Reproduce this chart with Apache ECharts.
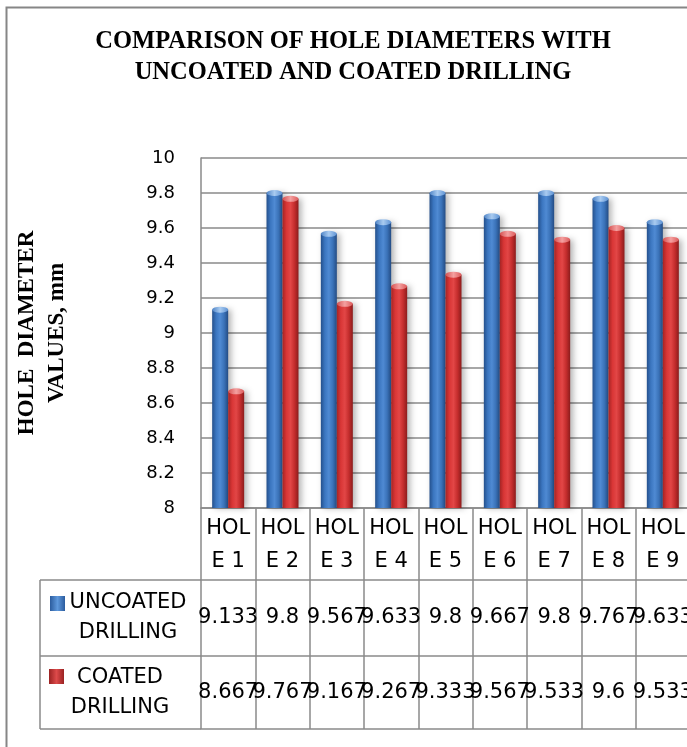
<!DOCTYPE html>
<html>
<head>
<meta charset="utf-8">
<script src="https://cdn.jsdelivr.net/npm/echarts@6/dist/echarts.min.js"></script>
<style>
  html, body { margin: 0; padding: 0; background: #ffffff; overflow: hidden; }
  #chart { width: 687px; height: 747px; }
</style>
</head>
<body>
<div id="chart"></div>
<script>
// Hole diameters (mm) measured for each drilled hole
const categories = ['HOLE 1', 'HOLE 2', 'HOLE 3', 'HOLE 4', 'HOLE 5', 'HOLE 6', 'HOLE 7', 'HOLE 8', 'HOLE 9'];
const uncoated = [9.133, 9.8, 9.567, 9.633, 9.8, 9.667, 9.8, 9.767, 9.633];
const coated = [8.667, 9.767, 9.167, 9.267, 9.333, 9.567, 9.533, 9.6, 9.533];
const seriesNames = ['UNCOATED DRILLING', 'COATED DRILLING'];
const yMin = 8, yMax = 10, yStep = 0.2;

// Layout of the plot and the data table underneath it
const GRID = { left: 201, top: 158, width: 489, height: 350 };
const HEAD_H = 72, ROW1_H = 76, ROW2_H = 73;
const TABLE_LEFT = 40;
const LINE = '#8a8a8a';
const SANS = '"DejaVu Sans", sans-serif';
const SERIF = '"Liberation Serif", "Times New Roman", serif';

function grad(stops) {
  return new echarts.graphic.LinearGradient(0, 0, 1, 0,
    stops.map((c, i) => ({ offset: i / (stops.length - 1), color: c })));
}
const blueBody = grad(['#24508c', '#3b76c0', '#4f8ad3', '#3a72b8', '#244c84']);
const redBody = grad(['#a52424', '#d93636', '#e24646', '#c42d2d', '#8c1c1c']);
const blueCap = grad(['#4f84c6', '#a9cbf0', '#5d92d4']);
const redCap = grad(['#d55050', '#f4a0a0', '#dc5a5a']);

const chart = echarts.init(document.getElementById('chart'), null, { renderer: 'canvas', width: 687, height: 747 });

const gridBottom = GRID.top + GRID.height;
const row1Top = gridBottom + HEAD_H;
const row2Top = row1Top + ROW1_H;
const tableBottom = row2Top + ROW2_H;

function tableAxis(offset, tickLen, formatter, lineHeight, showLabel) {
  return {
    type: 'category',
    data: categories,
    position: 'bottom',
    offset: offset,
    axisLine: { show: true, lineStyle: { color: LINE, width: 1.5 } },
    axisTick: { show: tickLen > 0, interval: 0, length: tickLen, lineStyle: { color: LINE, width: 1.5 } },
    axisLabel: {
      show: showLabel,
      interval: 0,
      margin: 0,
      formatter: formatter,
      fontFamily: SANS,
      fontSize: 21,
      color: '#000',
      lineHeight: lineHeight
    },
    splitLine: { show: false }
  };
}

const option = {
  animation: false,
  backgroundColor: '#ffffff',
  title: {
    text: 'COMPARISON OF HOLE DIAMETERS WITH\nUNCOATED AND COATED DRILLING',
    left: 348,
    top: 21,
    textAlign: 'center',
    textStyle: {
      fontFamily: SERIF,
      fontWeight: 'bold',
      fontSize: 24.5,
      lineHeight: 31,
      color: '#000'
    }
  },
  grid: {
    left: GRID.left, top: GRID.top, width: GRID.width, height: GRID.height,
    containLabel: false,
    outerBoundsMode: 'none'
  },
  xAxis: [
    {
      type: 'category',
      data: categories,
      position: 'bottom',
      axisLine: { show: true, lineStyle: { color: LINE, width: 1.5 } },
      axisTick: { show: true, interval: 0, length: HEAD_H, lineStyle: { color: LINE, width: 1.5 } },
      axisLabel: {
        interval: 0,
        margin: 4,
        width: 50,
        overflow: 'breakAll',
        fontFamily: SANS,
        fontSize: 21,
        lineHeight: 33,
        color: '#000'
      }
    },
    tableAxis(HEAD_H, ROW1_H, (v, i) => String(uncoated[i]), ROW1_H, true),
    tableAxis(HEAD_H + ROW1_H, ROW2_H, (v, i) => String(coated[i]), ROW2_H, true),
    tableAxis(HEAD_H + ROW1_H + ROW2_H, 0, () => '', 10, false)
  ],
  yAxis: {
    type: 'value',
    min: yMin,
    max: yMax,
    interval: yStep,
    name: 'HOLE  DIAMETER\nVALUES, mm',
    nameLocation: 'middle',
    nameRotate: 90,
    nameGap: 129,
    nameTextStyle: {
      fontFamily: SERIF,
      fontWeight: 'bold',
      fontSize: 23,
      lineHeight: 30,
      color: '#000'
    },
    axisLine: { show: true, lineStyle: { color: LINE, width: 1.5 } },
    axisTick: { show: false },
    axisLabel: { margin: 26, fontFamily: SANS, fontSize: 18, color: '#000' },
    splitLine: { show: true, lineStyle: { color: LINE, width: 1.5 } }
  },
  series: [
    {
      name: seriesNames[0],
      type: 'bar',
      data: uncoated,
      barWidth: 16,
      barGap: '0%',
      itemStyle: { color: blueBody, shadowBlur: 6, shadowColor: 'rgba(0,0,0,0.3)', shadowOffsetX: 3 },
      z: 3
    },
    {
      name: seriesNames[1],
      type: 'bar',
      data: coated,
      barWidth: 16,
      barGap: '0%',
      itemStyle: { color: redBody, shadowBlur: 6, shadowColor: 'rgba(0,0,0,0.3)', shadowOffsetX: 3 },
      z: 3
    },
    {
      name: seriesNames[0] + ' cap',
      type: 'pictorialBar',
      data: uncoated,
      barWidth: 16,
      barGap: '0%',
      symbol: 'circle',
      symbolSize: [16, 6],
      symbolPosition: 'end',
      symbolOffset: [0, '-50%'],
      itemStyle: { color: blueCap },
      z: 5
    },
    {
      name: seriesNames[1] + ' cap',
      type: 'pictorialBar',
      data: coated,
      barWidth: 16,
      barGap: '0%',
      symbol: 'circle',
      symbolSize: [16, 6],
      symbolPosition: 'end',
      symbolOffset: [0, '-50%'],
      itemStyle: { color: redCap },
      z: 5
    }
  ],
  graphic: [
    // chart frame
    { type: 'rect', shape: { x: 6.5, y: 7.5, width: 720, height: 780 },
      style: { fill: 'none', stroke: '#868686', lineWidth: 2 }, z: 0 },
    // left part of the data table (series name cells)
    { type: 'line', shape: { x1: TABLE_LEFT, y1: row1Top, x2: GRID.left, y2: row1Top }, style: { stroke: LINE, lineWidth: 1.5 } },
    { type: 'line', shape: { x1: TABLE_LEFT, y1: row2Top, x2: GRID.left, y2: row2Top }, style: { stroke: LINE, lineWidth: 1.5 } },
    { type: 'line', shape: { x1: TABLE_LEFT, y1: tableBottom, x2: GRID.left, y2: tableBottom }, style: { stroke: LINE, lineWidth: 1.5 } },
    { type: 'line', shape: { x1: TABLE_LEFT, y1: row1Top, x2: TABLE_LEFT, y2: tableBottom }, style: { stroke: LINE, lineWidth: 1.5 } },
    // legend keys
    { type: 'rect', shape: { x: 50, y: 596, width: 15, height: 15 }, style: { fill: grad(['#2b5c9e', '#5e98dc', '#2b5c9e']) } },
    { type: 'rect', shape: { x: 49, y: 669, width: 15, height: 15 }, style: { fill: grad(['#9a2222', '#dd4a4a', '#9a2222']) } },
    { type: 'text', style: { text: 'UNCOATED\nDRILLING', x: 128, y: row1Top + ROW1_H / 2, textAlign: 'center', textVerticalAlign: 'middle',
      font: '21px ' + SANS, lineHeight: 30, fill: '#000' } },
    { type: 'text', style: { text: 'COATED\nDRILLING', x: 120, y: row2Top + ROW2_H / 2, textAlign: 'center', textVerticalAlign: 'middle',
      font: '21px ' + SANS, lineHeight: 30, fill: '#000' } }
  ]
};

chart.setOption(option);
</script>
</body>
</html>
